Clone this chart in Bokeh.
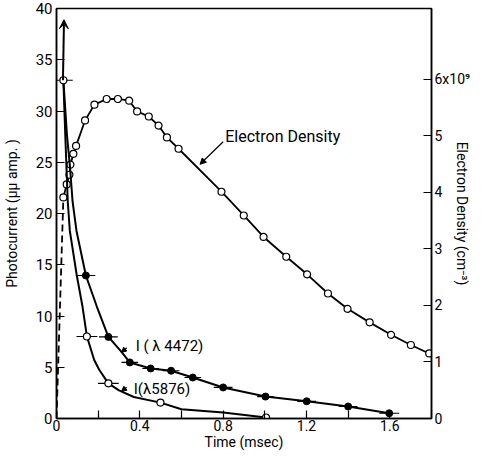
import numpy as np
from bokeh.plotting import figure
from bokeh.models import (Range1d, LinearAxis, FixedTicker, NumeralTickFormatter,
                          CustomJSTickFormatter, Label, Arrow, VeeHead, NormalHead)
from bokeh.embed import file_html
from bokeh.resources import INLINE

FONT = "Roboto"

# ---------------- data ----------------
# Electron density (units of 1e9 cm^-3) vs time (msec); first segment dashed
ed_time = [0.0, 0.033, 0.049, 0.062, 0.067, 0.081, 0.094, 0.137, 0.182, 0.241, 0.295,
           0.349, 0.387, 0.443, 0.490, 0.530, 0.586, 0.792, 0.899, 0.994, 1.103,
           1.203, 1.303, 1.397, 1.503, 1.606, 1.701, 1.789]
ed_density = [0.0, 3.91, 4.14, 4.31, 4.49, 4.68, 4.82, 5.27, 5.55, 5.65, 5.65,
              5.62, 5.43, 5.34, 5.18, 4.97, 4.77, 4.01, 3.59, 3.21, 2.86,
              2.55, 2.21, 1.94, 1.70, 1.48, 1.30, 1.15]

# Common peak of both photocurrents
peak_time = [0.033]
peak_current = [33.0]
peak_err = [0.045]

# I(lambda 4472): measured points (filled) and traced curve
i4472_time = [0.141, 0.249, 0.352, 0.452, 0.550, 0.654, 0.800, 1.003, 1.201, 1.400, 1.597]
i4472_current = [13.95, 7.96, 5.47, 4.88, 4.66, 4.00, 3.03, 2.14, 1.68, 1.17, 0.51]
i4472_err = [0.045, 0.045, 0.04, 0.04, 0.04, 0.04, 0.045, 0.04, 0.045, 0.045, 0.048]
i4472_curve_t = [0.033, 0.050, 0.065, 0.077, 0.096, 0.141, 0.194, 0.249, 0.308, 0.352,
                 0.452, 0.550, 0.654, 0.800, 1.003, 1.201, 1.400, 1.597]
i4472_curve_i = [33.0, 27.7, 24.5, 21.2, 18.3, 13.95, 10.9, 7.96, 6.6, 5.47,
                 4.88, 4.66, 4.00, 3.03, 2.14, 1.68, 1.17, 0.51]

# I(lambda 5876): measured points (open) and traced curve
i5876_time = [0.146, 0.249, 0.499, 1.006]
i5876_current = [8.0, 3.43, 1.55, 0.10]
i5876_err = [0.05, 0.05, 0.0, 0.0]
i5876_curve_t = [0.033, 0.042, 0.054, 0.064, 0.097, 0.125, 0.146, 0.181, 0.205, 0.249,
                 0.300, 0.371, 0.499, 0.600, 0.800, 1.006]
i5876_curve_i = [33.0, 27.7, 21.2, 18.3, 14.0, 10.9, 8.0, 5.7, 4.75, 3.43,
                 2.75, 2.1, 1.55, 0.9, 0.58, 0.10]

x_major = [0, 0.4, 0.8, 1.2, 1.6]
x_minor = [0.2, 0.6, 1.0, 1.4, 1.8]
y_left_ticks = [0, 5, 10, 15, 20, 25, 30, 35, 40]
y_right_ticks = [0, 1, 2, 3, 4, 5, 6]

# ---------------- figure ----------------
p = figure(width=474, height=452, x_range=Range1d(0, 1.8), y_range=Range1d(0, 40),
           output_backend="svg", toolbar_location=None,
           min_border_left=54, min_border_right=43, min_border_top=8, min_border_bottom=30)
p.extra_y_ranges = {"ed": Range1d(0, 7.25)}
p.xgrid.visible = False
p.ygrid.visible = False
p.outline_line_color = "black"
p.outline_line_width = 1.5
p.background_fill_color = "white"
p.border_fill_color = "white"

def style_axis(ax, size):
    ax.axis_line_color = "black"
    ax.axis_line_width = 1.5
    ax.major_tick_in = 8
    ax.major_tick_out = 0
    ax.minor_tick_in = 8
    ax.minor_tick_out = 0
    ax.major_tick_line_color = "black"
    ax.minor_tick_line_color = "black"
    ax.major_tick_line_width = 1.2
    ax.minor_tick_line_width = 1.2
    ax.major_label_text_font = FONT
    ax.major_label_text_font_size = size
    ax.major_label_text_color = "black"
    ax.major_label_standoff = 4
    ax.axis_label_text_font = FONT
    ax.axis_label_text_font_size = "14px"
    ax.axis_label_text_font_style = "normal"
    ax.axis_label_text_color = "black"

xa = p.xaxis[0]
xa.ticker = FixedTicker(ticks=x_major, minor_ticks=x_minor)
xa.formatter = NumeralTickFormatter(format="0.[0]")
style_axis(xa, "14px")
xa.major_label_standoff = 1
xa.axis_label = "Time (msec)"
xa.axis_label_standoff = 0

ya = p.yaxis[0]
ya.ticker = FixedTicker(ticks=y_left_ticks, minor_ticks=[])
style_axis(ya, "15px")
ya.minor_tick_in = 0
ya.axis_label = "Photocurrent (\u03bc\u03bc amp. )"
ya.axis_label_standoff = 13

ra = LinearAxis(y_range_name="ed", ticker=FixedTicker(ticks=y_right_ticks, minor_ticks=[]),
                formatter=CustomJSTickFormatter(code="return tick == 6 ? '6x10\u2079' : tick.toFixed(0);"))
style_axis(ra, "14px")
ra.minor_tick_in = 0
ra.major_label_standoff = 3
ra.axis_label = "Electron Density (cm\u207b\u00b3)"
ra.axis_label_standoff = -19
p.add_layout(ra, "right")

# ---------------- electron density ----------------
p.line(ed_time[:2], ed_density[:2], y_range_name="ed", line_color="black",
       line_width=1.8, line_dash="7 4")
p.line(ed_time[1:], ed_density[1:], y_range_name="ed", line_color="black", line_width=1.8)
p.scatter(ed_time[1:], ed_density[1:], y_range_name="ed", marker="circle", size=7,
          fill_color="white", line_color="black", line_width=1.2)

# ---------------- photocurrents ----------------
p.line(i4472_curve_t, i4472_curve_i, line_color="black", line_width=2.0)
p.line(i5876_curve_t, i5876_curve_i, line_color="black", line_width=2.0)

def bars(t, v, e):
    t = np.array(t); v = np.array(v); e = np.array(e)
    m = e > 0
    p.segment(x0=t[m] - e[m], y0=v[m], x1=t[m] + e[m], y1=v[m], line_color="black", line_width=1.2)

bars(i4472_time, i4472_current, i4472_err)
bars(i5876_time, i5876_current, i5876_err)
bars(peak_time, peak_current, peak_err)

p.scatter(i4472_time, i4472_current, marker="circle", size=7, fill_color="black", line_color="black")
p.scatter(i5876_time, i5876_current, marker="circle", size=7, fill_color="white",
          line_color="black", line_width=1.2)
p.scatter(peak_time, peak_current, marker="circle", size=7, fill_color="white",
          line_color="black", line_width=1.2)

# arrow: current goes off scale
p.add_layout(Arrow(end=VeeHead(size=9, fill_color="black", line_color="black"),
                   x_start=0.031, y_start=33.0, x_end=0.036, y_end=38.9,
                   line_color="black", line_width=2))

# ---------------- annotations ----------------
def txt(x, y, s, size="15px"):
    p.add_layout(Label(x=x, y=y, text=s, text_font=FONT, text_font_size=size,
                       text_align="left", text_baseline="middle", text_color="black"))

txt(0.81, 27.5, "Electron Density", "16px")
p.add_layout(Arrow(end=NormalHead(size=6, fill_color="black", line_color="black"),
                   x_start=0.80, y_start=27.0, x_end=0.689, y_end=24.8,
                   line_color="black", line_width=1.2))
txt(0.38, 7.1, "I ( \u03bb 4472)", "15px")
p.add_layout(Arrow(end=NormalHead(size=5, fill_color="black", line_color="black"),
                   x_start=0.337, y_start=6.9, x_end=0.312, y_end=6.45,
                   line_color="black", line_width=1.2))
txt(0.371, 2.9, "I(\u03bb5876)", "15px")
p.add_layout(Arrow(end=NormalHead(size=5, fill_color="black", line_color="black"),
                   x_start=0.337, y_start=3.05, x_end=0.312, y_end=2.65,
                   line_color="black", line_width=1.2))

open("out.html", "w").write(file_html(p, INLINE))
